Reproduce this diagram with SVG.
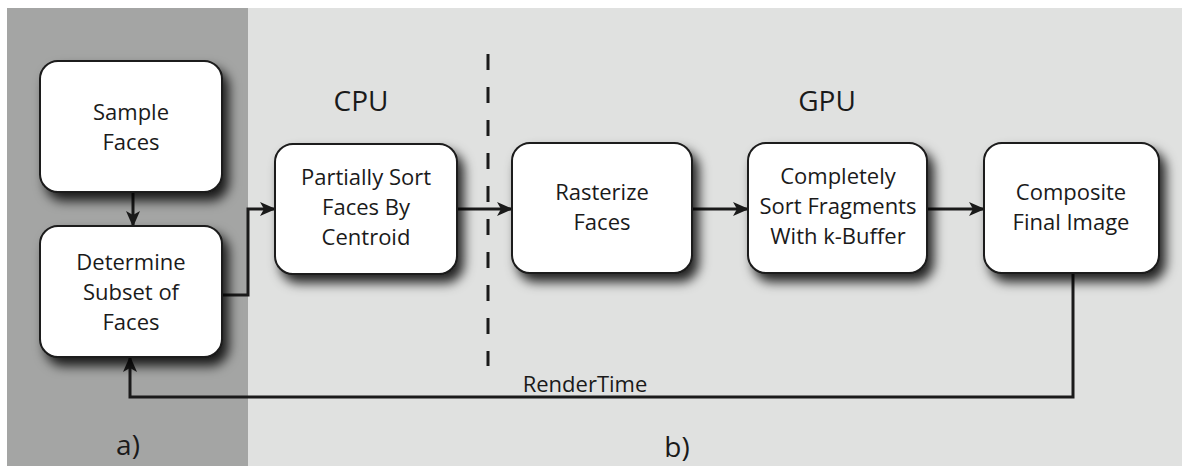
<svg xmlns="http://www.w3.org/2000/svg" width="1182" height="466" viewBox="0 0 1182 466">
<style>
.box{fill:#ffffff;stroke:#1a1a1a;stroke-width:2;filter:url(#sh)}
.t{font-family:"Open Sans","Noto Sans",sans-serif;font-size:22px;fill:#1a1a1a;text-anchor:middle}
.big{font-family:"Open Sans","Noto Sans",sans-serif;font-size:28px;fill:#1a1a1a;text-anchor:middle}
.c{fill:none;stroke:#1a1a1a;stroke-width:3}
</style>
<defs>
<filter id="sh" x="-20%" y="-20%" width="150%" height="170%">
<feDropShadow dx="6" dy="8" stdDeviation="6" flood-color="#000" flood-opacity="0.85"/>
</filter>
<marker id="ah" viewBox="0 0 16 14" refX="15" refY="7" markerWidth="16" markerHeight="14" markerUnits="userSpaceOnUse" orient="auto">
<path d="M0,0 L16,7 L0,14 L4,7 Z" fill="#1a1a1a"/>
</marker>
</defs>
<rect x="0" y="0" width="1182" height="466" fill="#ffffff"/>
<rect x="7" y="8" width="241" height="458" fill="#a4a5a4"/>
<rect x="248" y="8" width="934" height="458" fill="#e0e1e0"/>
<text class="big" x="361" y="111">CPU</text>
<text class="big" x="827" y="111">GPU</text>
<text class="big" x="128" y="455">a)</text>
<text class="big" x="677" y="457">b)</text>
<line x1="488" y1="54" x2="488" y2="366" stroke="#1a1a1a" stroke-width="3" stroke-dasharray="16,17"/>
<g id="connectors">
<path class="c" d="M133,192 V226" marker-end="url(#ah)"/>
<path class="c" d="M222,295 H248 V209 H275" marker-end="url(#ah)"/>
<path class="c" d="M457,209 H512" marker-end="url(#ah)"/>
<path class="c" d="M692,209 H748" marker-end="url(#ah)"/>
<path class="c" d="M927,209 H984" marker-end="url(#ah)"/>
<path class="c" d="M1073,273 V397 H130 V357" marker-end="url(#ah)"/>
<text class="t" x="585" y="392">RenderTime</text>
</g>
<g id="sample">
<rect class="box" x="40" y="61" width="182" height="131" rx="18"/>
<text class="t" x="131" y="120">Sample</text>
<text class="t" x="131" y="150">Faces</text>
</g>
<g id="determine">
<rect class="box" x="40" y="226" width="182" height="131" rx="18"/>
<text class="t" x="131" y="270">Determine</text>
<text class="t" x="131" y="300">Subset of</text>
<text class="t" x="131" y="330">Faces</text>
</g>
<g id="partial">
<rect class="box" x="275" y="144" width="182" height="130" rx="18"/>
<text class="t" x="366" y="185">Partially Sort</text>
<text class="t" x="366" y="215">Faces By</text>
<text class="t" x="366" y="245">Centroid</text>
</g>
<g id="rasterize">
<rect class="box" x="512" y="143" width="180" height="130" rx="18"/>
<text class="t" x="602" y="200">Rasterize</text>
<text class="t" x="602" y="230">Faces</text>
</g>
<g id="completely">
<rect class="box" x="748" y="143" width="179" height="130" rx="18"/>
<text class="t" x="838" y="184">Completely</text>
<text class="t" x="838" y="214">Sort Fragments</text>
<text class="t" x="838" y="244">With k-Buffer</text>
</g>
<g id="composite">
<rect class="box" x="984" y="143" width="175" height="130" rx="18"/>
<text class="t" x="1071" y="200">Composite</text>
<text class="t" x="1071" y="230">Final Image</text>
</g>
</svg>
